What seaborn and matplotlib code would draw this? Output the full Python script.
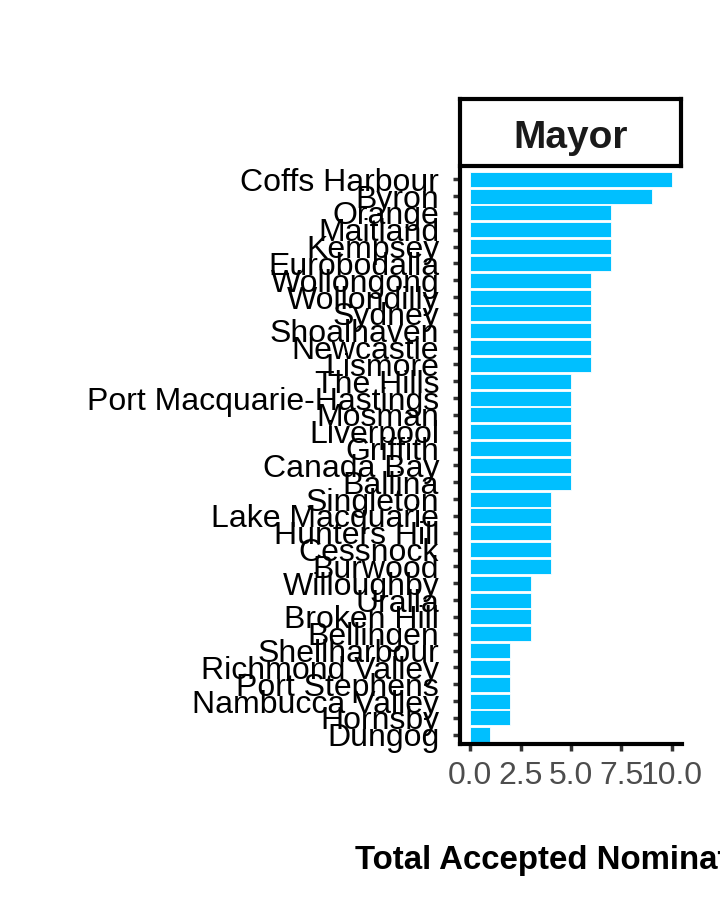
import numpy as np
import pandas as pd
import matplotlib
matplotlib.use("Agg")
import matplotlib.pyplot as plt
import seaborn as sns

# =====================================================
# DATA
# =====================================================

councils = [
    "Coffs Harbour", "Byron", "Orange", "Maitland", "Kempsey", "Eurobodalla",
    "Wollongong", "Wollondilly", "Sydney", "Shoalhaven", "Newcastle", "Lismore",
    "The Hills", "Port Macquarie-Hastings", "Mosman", "Liverpool", "Griffith",
    "Canada Bay", "Ballina", "Singleton", "Lake Macquarie", "Hunters Hill",
    "Cessnock", "Burwood", "Willoughby", "Uralla", "Broken Hill", "Bellingen",
    "Shellharbour", "Richmond Valley", "Port Stephens", "Nambucca Valley",
    "Hornsby", "Dungog",
]
nominations = [
    10, 9, 7, 7, 7, 7,
    6, 6, 6, 6, 6, 6,
    5, 5, 5, 5, 5,
    5, 5, 4, 4, 4,
    4, 4, 3, 3, 3, 3,
    2, 2, 2, 2,
    2, 1,
]
x_ticks = [0.0, 2.5, 5.0, 7.5, 10.0]
x_tick_labels = ["0.0", "2.5", "5.0", "7.5", "10.0"]
facet_label = "Mayor"
x_title = "Total Accepted Nominations"

df = pd.DataFrame({"council": councils, "n": nominations})

# =====================================================
# THEME
# =====================================================

sns.set_theme(style="white")
plt.rcParams["font.family"] = ["Liberation Sans", "DejaVu Sans"]

fig = plt.figure(figsize=(7.2, 9.21), dpi=100)

# panel
ax = fig.add_axes([460 / 720, 1 - 744 / 921, 222 / 720, 574 / 921])

sns.barplot(
    data=df,
    x="n",
    y="council",
    order=councils,
    orient="h",
    color="#00BFFF",
    saturation=1,
    width=0.9,
    edgecolor="white",
    linewidth=0.6,
    ax=ax,
)

ax.set_xlim(-0.5, 10.5)
ax.set_ylim(len(councils) - 0.45, -0.55)

ax.set_xticks(x_ticks)
ax.set_xticklabels(x_tick_labels, fontsize=23, color="#4D4D4D")
ax.set_yticks(range(len(councils)))
ax.set_yticklabels(councils, fontsize=23, color="black")

ax.tick_params(axis="both", which="both", left=True, bottom=True,
               length=5, width=2.5, color="#333333", direction="out")
ax.tick_params(axis="y", pad=10)
ax.tick_params(axis="x", pad=7)

for side in ["top", "right"]:
    ax.spines[side].set_visible(False)
for side in ["left", "bottom"]:
    ax.spines[side].set_visible(True)
    ax.spines[side].set_color("black")
    ax.spines[side].set_linewidth(3)

ax.set_xlabel("")
ax.set_ylabel("")
ax.grid(False)

# facet strip
strip = fig.add_axes([460 / 720, 1 - 166 / 921, 221 / 720, 67 / 921])
strip.set_xticks([])
strip.set_yticks([])
for side in strip.spines.values():
    side.set_visible(True)
    side.set_color("black")
    side.set_linewidth(3)
strip.text(0.5, 0.42, facet_label, ha="center", va="center",
           fontsize=28, fontweight="bold", color="#1A1A1A",
           transform=strip.transAxes)

# axis title (cut off at the right edge as in the original)
fig.text(355 / 720, 1 - 860 / 921, x_title, ha="left", va="center",
         fontsize=23.8, fontweight="bold", color="black")

plt.savefig("out.png", dpi=100)
plt.close()
